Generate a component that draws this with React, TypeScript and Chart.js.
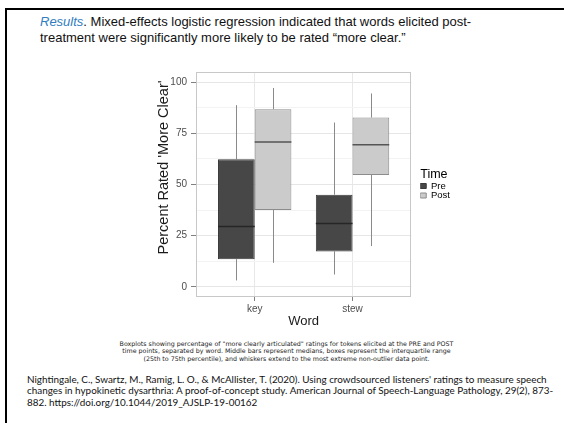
import React, { useEffect, useRef } from 'react';
import { Chart, registerables } from 'chart.js';

Chart.register(...registerables);

// ---- data ----
const words = ['key', 'stew'];
const wordPositions = [1, 2];
const seriesNames = ['Pre', 'Post'];
const preMin = [3.1, 6.0];
const preQ1 = [13.5, 17.3];
const preMedian = [29.5, 30.9];
const preQ3 = [62.4, 45.0];
const preMax = [88.8, 80.3];
const postMin = [11.7, 19.9];
const postQ1 = [37.5, 54.7];
const postMedian = [70.8, 69.4];
const postQ3 = [86.8, 82.7];
const postMax = [97.2, 94.5];
const yTickValues = [0, 12.5, 25, 37.5, 50, 62.5, 75, 87.5, 100];
const yLabelStep = 25;

const FONT = '"Liberation Sans", Arial, sans-serif';

const boxStats = [
  { min: preMin, med: preMedian, max: preMax, medColor: '#262626', whisker: '#8a8a8a' },
  { min: postMin, med: postMedian, max: postMax, medColor: '#555555', whisker: '#8a8a8a' },
];

const boxplotPlugin = {
  id: 'boxplotExtras',
  beforeDatasetsDraw(chart: any) {
    const { ctx, chartArea: a, scales } = chart;
    // panel border
    ctx.save();
    ctx.strokeStyle = '#c8c8c8';
    ctx.lineWidth = 1;
    ctx.strokeRect(Math.round(a.left) + 0.5, Math.round(a.top) + 0.5, Math.round(a.right - a.left) - 1, Math.round(a.bottom - a.top) - 1);
    // whiskers
    chart.data.datasets.forEach((ds: any, d: number) => {
      const meta = chart.getDatasetMeta(d);
      const st = boxStats[d];
      meta.data.forEach((bar: any, i: number) => {
        const x = Math.round(bar.x) + 0.5;
        const y = scales.y;
        const q1 = (ds.data[i].y as number[])[0];
        const q3 = (ds.data[i].y as number[])[1];
        ctx.strokeStyle = st.whisker;
        ctx.lineWidth = 1;
        ctx.beginPath();
        ctx.moveTo(x, y.getPixelForValue(q3));
        ctx.lineTo(x, y.getPixelForValue(st.max[i]));
        ctx.moveTo(x, y.getPixelForValue(q1));
        ctx.lineTo(x, y.getPixelForValue(st.min[i]));
        ctx.stroke();
      });
    });
    ctx.restore();
  },
  afterDatasetsDraw(chart: any) {
    const { ctx, scales } = chart;
    ctx.save();
    chart.data.datasets.forEach((ds: any, d: number) => {
      const meta = chart.getDatasetMeta(d);
      const st = boxStats[d];
      meta.data.forEach((bar: any, i: number) => {
        const ym = scales.y.getPixelForValue(st.med[i]);
        ctx.strokeStyle = st.medColor;
        ctx.lineWidth = 1.5;
        ctx.beginPath();
        ctx.moveTo(bar.x - bar.width / 2, ym);
        ctx.lineTo(bar.x + bar.width / 2, ym);
        ctx.stroke();
      });
    });
    ctx.restore();
  },
  afterDraw(chart: any) {
    const { ctx, chartArea: a } = chart;
    ctx.save();
    ctx.translate(a.left - 32, a.top + 95.5);
    ctx.rotate(-Math.PI / 2);
    ctx.textAlign = 'center';
    ctx.textBaseline = 'middle';
    ctx.fillStyle = '#1a1a1a';
    ctx.font = `14.5px ${FONT}`;
    ctx.fillText("Percent Rated 'More Clear'", 0, 0);
    ctx.restore();
  },
};

function BoxChart() {
  const ref = useRef<HTMLCanvasElement | null>(null);
  useEffect(() => {
    if (!ref.current) return;
    const chart = new Chart(ref.current, {
      type: 'bar',
      data: {
        datasets: [
          {
            label: seriesNames[0],
            data: wordPositions.map((x, i) => ({ x, y: [preQ1[i], preQ3[i]] })) as any,
            backgroundColor: '#474747',
            borderColor: '#3a3a3a',
            borderWidth: 1,
            borderSkipped: false,
          },
          {
            label: seriesNames[1],
            data: wordPositions.map((x, i) => ({ x, y: [postQ1[i], postQ3[i]] })) as any,
            backgroundColor: '#cbcbcb',
            borderColor: '#8c8c8c',
            borderWidth: 1,
            borderSkipped: false,
          },
        ],
      },
      options: {
        responsive: false,
        animation: false,
        events: [],
        layout: { padding: { left: 0, top: 12, right: 0, bottom: 0 } },
        datasets: { bar: { categoryPercentage: 0.75, barPercentage: 1 } },
        scales: {
          x: {
            type: 'linear',
            min: 0.4,
            max: 2.6,
            bounds: 'data',
            offset: false,
            afterBuildTicks: (s: any) => {
              s.ticks = wordPositions.map((v) => ({ value: v }));
            },
            afterFit: (s: any) => {
              s.height = 43;
            },
            ticks: {
              callback: (v: any) => {
                const k = wordPositions.indexOf(Number(v));
                return k >= 0 ? words[k] : '';
              },
              color: '#4d4d4d',
              font: { family: FONT, size: 10 },
              padding: 2,
              maxRotation: 0,
            },
            grid: { offset: false, color: '#e8e8e8', tickColor: '#808080', tickLength: 4 },
            border: { display: false },
            title: {
              display: true,
              text: 'Word',
              color: '#1a1a1a',
              font: { family: FONT, size: 13 },
              padding: { top: 0, bottom: 11 },
            },
          },
          y: {
            type: 'linear',
            min: -5,
            max: 105,
            bounds: 'data',
            afterBuildTicks: (s: any) => {
              s.ticks = yTickValues.map((v) => ({ value: v }));
            },
            afterFit: (s: any) => {
              s.width = 56;
            },
            ticks: {
              callback: (v: any) => (Number(v) % yLabelStep === 0 ? String(v) : ''),
              color: '#4d4d4d',
              font: { family: FONT, size: 10 },
              padding: 4,
            },
            grid: {
              color: (c: any) => (c.tick && c.tick.value % yLabelStep === 0 ? '#e6e6e6' : '#f3f3f3'),
              tickColor: (c: any) => (c.tick && c.tick.value % yLabelStep === 0 ? '#808080' : 'rgba(0,0,0,0)'),
              tickLength: 5,
            },
            border: { display: false },
          },
          y2: {
            type: 'linear',
            position: 'right',
            display: true,
            grid: { display: false, drawTicks: false },
            ticks: { display: false },
            border: { display: false },
            afterFit: (s: any) => {
              s.width = 9;
            },
          },
        },
        plugins: {
          legend: {
            position: 'right',
            align: 'center',
            fullSize: false,
            title: {
              display: true,
              text: 'Time',
              color: '#000',
              position: 'start',
              padding: 0,
              font: { family: FONT, size: 12.5, lineHeight: 1 },
            },
            labels: {
              boxWidth: 6,
              boxHeight: 5,
              padding: 0,
              color: '#000',
              font: { family: FONT, size: 9.5 },
            },
          },
          tooltip: { enabled: false },
        },
      } as any,
      plugins: [boxplotPlugin],
    });
    return () => chart.destroy();
  }, []);
  return <canvas ref={ref} width={320} height={280} style={{ display: 'block', width: 320, height: 280 }} />;
}

export default function App() {
  return (
    <div
      style={{
        position: 'fixed',
        left: 0,
        top: 0,
        width: 564,
        height: 423,
        background: '#fff',
        overflow: 'hidden',
        fontFamily: FONT,
      }}
    >
      <div
        style={{
          position: 'absolute',
          left: 5,
          top: 8,
          width: 600,
          height: 500,
          borderTop: '2px solid #000',
          borderLeft: '2px solid #000',
        }}
      />
      <div
        style={{
          position: 'absolute',
          left: 40,
          top: 14,
          width: 500,
          fontSize: 13,
          lineHeight: '16px',
          color: '#111',
          whiteSpace: 'nowrap',
        }}
      >
        <span style={{ color: '#2f7cc0', fontStyle: 'italic' }}>Results</span>. Mixed-effects logistic regression indicated that words elicited post-
        <br />
        treatment were significantly more likely to be rated “more clear.”
      </div>
      <div style={{ position: 'absolute', left: 140, top: 60, width: 320, height: 280 }}>
        <BoxChart />
      </div>
      <div
        style={{
          position: 'absolute',
          left: 66,
          top: 340,
          width: 441,
          textAlign: 'center',
          fontFamily: '"DejaVu Sans", Verdana, sans-serif',
          fontSize: 6.3,
          lineHeight: '7.4px',
          color: '#1a1a1a',
          whiteSpace: 'nowrap',
        }}
      >
        Boxplots showing percentage of "more clearly articulated" ratings for tokens elicited at the PRE and POST
        <br />
        time points, separated by word. Middle bars represent medians, boxes represent the interquartile range
        <br />
        (25th to 75th percentile), and whiskers extend to the most extreme non-outlier data point.
      </div>
      <div
        style={{
          position: 'absolute',
          left: 27,
          top: 374,
          width: 540,
          fontFamily: 'Lato, "Open Sans", sans-serif',
          fontSize: 9.9,
          lineHeight: '11.3px',
          color: '#111',
          whiteSpace: 'nowrap',
        }}
      >
        Nightingale, C., Swartz, M., Ramig, L. O., &amp; McAllister, T. (2020). Using crowdsourced listeners' ratings to measure speech
        <br />
        changes in hypokinetic dysarthria: A proof-of-concept study. American Journal of Speech-Language Pathology, 29(2), 873-
        <br />
        882. https://doi.org/10.1044/2019_AJSLP-19-00162
      </div>
    </div>
  );
}
